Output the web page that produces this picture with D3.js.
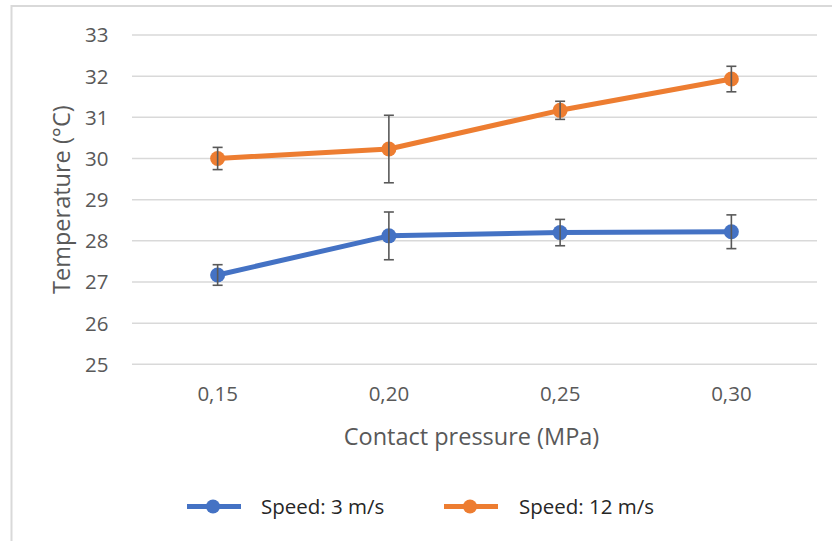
<!DOCTYPE html>
<html>
<head>
<meta charset="utf-8">
<script src="https://cdn.jsdelivr.net/npm/d3@7"></script>
<style>
  html, body { margin: 0; padding: 0; background: #fff; }
  svg { display: block; }
  text { font-family: "Open Sans", "Noto Sans", sans-serif; }
</style>
</head>
<body>
<svg id="chart" width="832" height="541"></svg>
<script>
// ---- data ----
const categories = ["0,15", "0,20", "0,25", "0,30"];
const seriesNames = ["Speed: 3 m/s", "Speed: 12 m/s"];
const speed3 = [27.17, 28.12, 28.20, 28.22];
const speed3Err = [0.25, 0.58, 0.32, 0.41];
const speed12 = [30.00, 30.23, 31.17, 31.93];
const speed12Err = [0.27, 0.82, 0.22, 0.31];
const yTicks = [25, 26, 27, 28, 29, 30, 31, 32, 33];
const colors = ["#4472C4", "#ED7D31"];

const series = [
  { name: seriesNames[0], values: speed3, errors: speed3Err, color: colors[0] },
  { name: seriesNames[1], values: speed12, errors: speed12Err, color: colors[1] }
];

const svg = d3.select("#chart");
const W = 832, H = 541;

// outer frame (partially visible)
svg.append("rect")
  .attr("x", 11.5).attr("y", 6)
  .attr("width", W + 10).attr("height", H + 10)
  .attr("fill", "#fff").attr("stroke", "#d9d9d9").attr("stroke-width", 2);

const plot = { left: 132, right: 817, top: 35, bottom: 364.3 };

const x = d3.scaleBand().domain(categories).range([plot.left, plot.right]);
const y = d3.scaleLinear().domain([25, 33]).range([plot.bottom, plot.top]);

// gridlines
svg.append("g").selectAll("line").data(yTicks).join("line")
  .attr("x1", plot.left).attr("x2", plot.right)
  .attr("y1", d => y(d)).attr("y2", d => y(d))
  .attr("stroke", "#d9d9d9").attr("stroke-width", 1.5);

// y axis labels
const yAxis = d3.axisLeft(y).tickValues(yTicks).tickSize(0).tickPadding(0);
const gy = svg.append("g").attr("transform", `translate(${plot.left - 23.5},0)`).call(yAxis);
gy.select(".domain").remove();
gy.selectAll("text")
  .attr("fill", "#595959")
  .style("font-size", "20.5px")
  .style("font-family", '"Open Sans", sans-serif')
  .attr("dy", "0.34em");

// x axis labels
const xAxis = d3.axisBottom(x).tickSize(0).tickPadding(0);
const gx = svg.append("g").attr("transform", `translate(0,${plot.bottom + 22})`).call(xAxis);
gx.select(".domain").remove();
gx.selectAll("text")
  .attr("fill", "#595959")
  .style("font-size", "20.5px")
  .style("font-family", '"Open Sans", sans-serif');

// axis titles
svg.append("text")
  .attr("x", (plot.left + plot.right) / 2 - 3)
  .attr("y", 445)
  .attr("text-anchor", "middle")
  .attr("fill", "#595959")
  .style("font-size", "23.5px")
  .text("Contact pressure (MPa)");

svg.append("text")
  .attr("transform", `translate(70,${(plot.top + plot.bottom) / 2}) rotate(-90)`)
  .attr("text-anchor", "middle")
  .attr("fill", "#595959")
  .style("font-size", "23.5px")
  .text("Temperature (\u00B0C)");

const cx = d => x(d) + x.bandwidth() / 2;

// lines
const line = d3.line().x((d, i) => cx(categories[i])).y(d => y(d));
series.forEach(s => {
  svg.append("path")
    .datum(s.values)
    .attr("d", line)
    .attr("fill", "none")
    .attr("stroke", s.color)
    .attr("stroke-width", 5)
    .attr("stroke-linejoin", "round");
});

// markers
series.forEach(s => {
  svg.append("g").selectAll("circle").data(s.values).join("circle")
    .attr("cx", (d, i) => cx(categories[i]))
    .attr("cy", d => y(d))
    .attr("r", 7.5)
    .attr("fill", s.color);
});

// error bars
series.forEach(s => {
  const g = svg.append("g").attr("stroke", "#595959").attr("stroke-width", 1.6);
  s.values.forEach((v, i) => {
    const px = cx(categories[i]);
    const top = y(v + s.errors[i]);
    const bot = y(v - s.errors[i]);
    g.append("line").attr("x1", px).attr("x2", px).attr("y1", top).attr("y2", bot);
    g.append("line").attr("x1", px - 5).attr("x2", px + 5).attr("y1", top).attr("y2", top);
    g.append("line").attr("x1", px - 5).attr("x2", px + 5).attr("y1", bot).attr("y2", bot);
  });
});

// legend
const legendItems = [
  { x0: 187, x1: 241, mx: 213, tx: 261 },
  { x0: 444, x1: 498, mx: 470, tx: 519 }
];
const lg = svg.append("g");
series.forEach((s, i) => {
  const L = legendItems[i];
  const yL = 506.5;
  lg.append("line").attr("x1", L.x0).attr("x2", L.x1).attr("y1", yL).attr("y2", yL)
    .attr("stroke", s.color).attr("stroke-width", 5);
  lg.append("circle").attr("cx", L.mx).attr("cy", yL).attr("r", 7).attr("fill", s.color);
  lg.append("text").attr("x", L.tx).attr("y", yL).attr("dy", "0.35em")
    .attr("fill", "#262626")
    .style("font-size", "20.5px")
    .text(s.name);
});
</script>
</body>
</html>
